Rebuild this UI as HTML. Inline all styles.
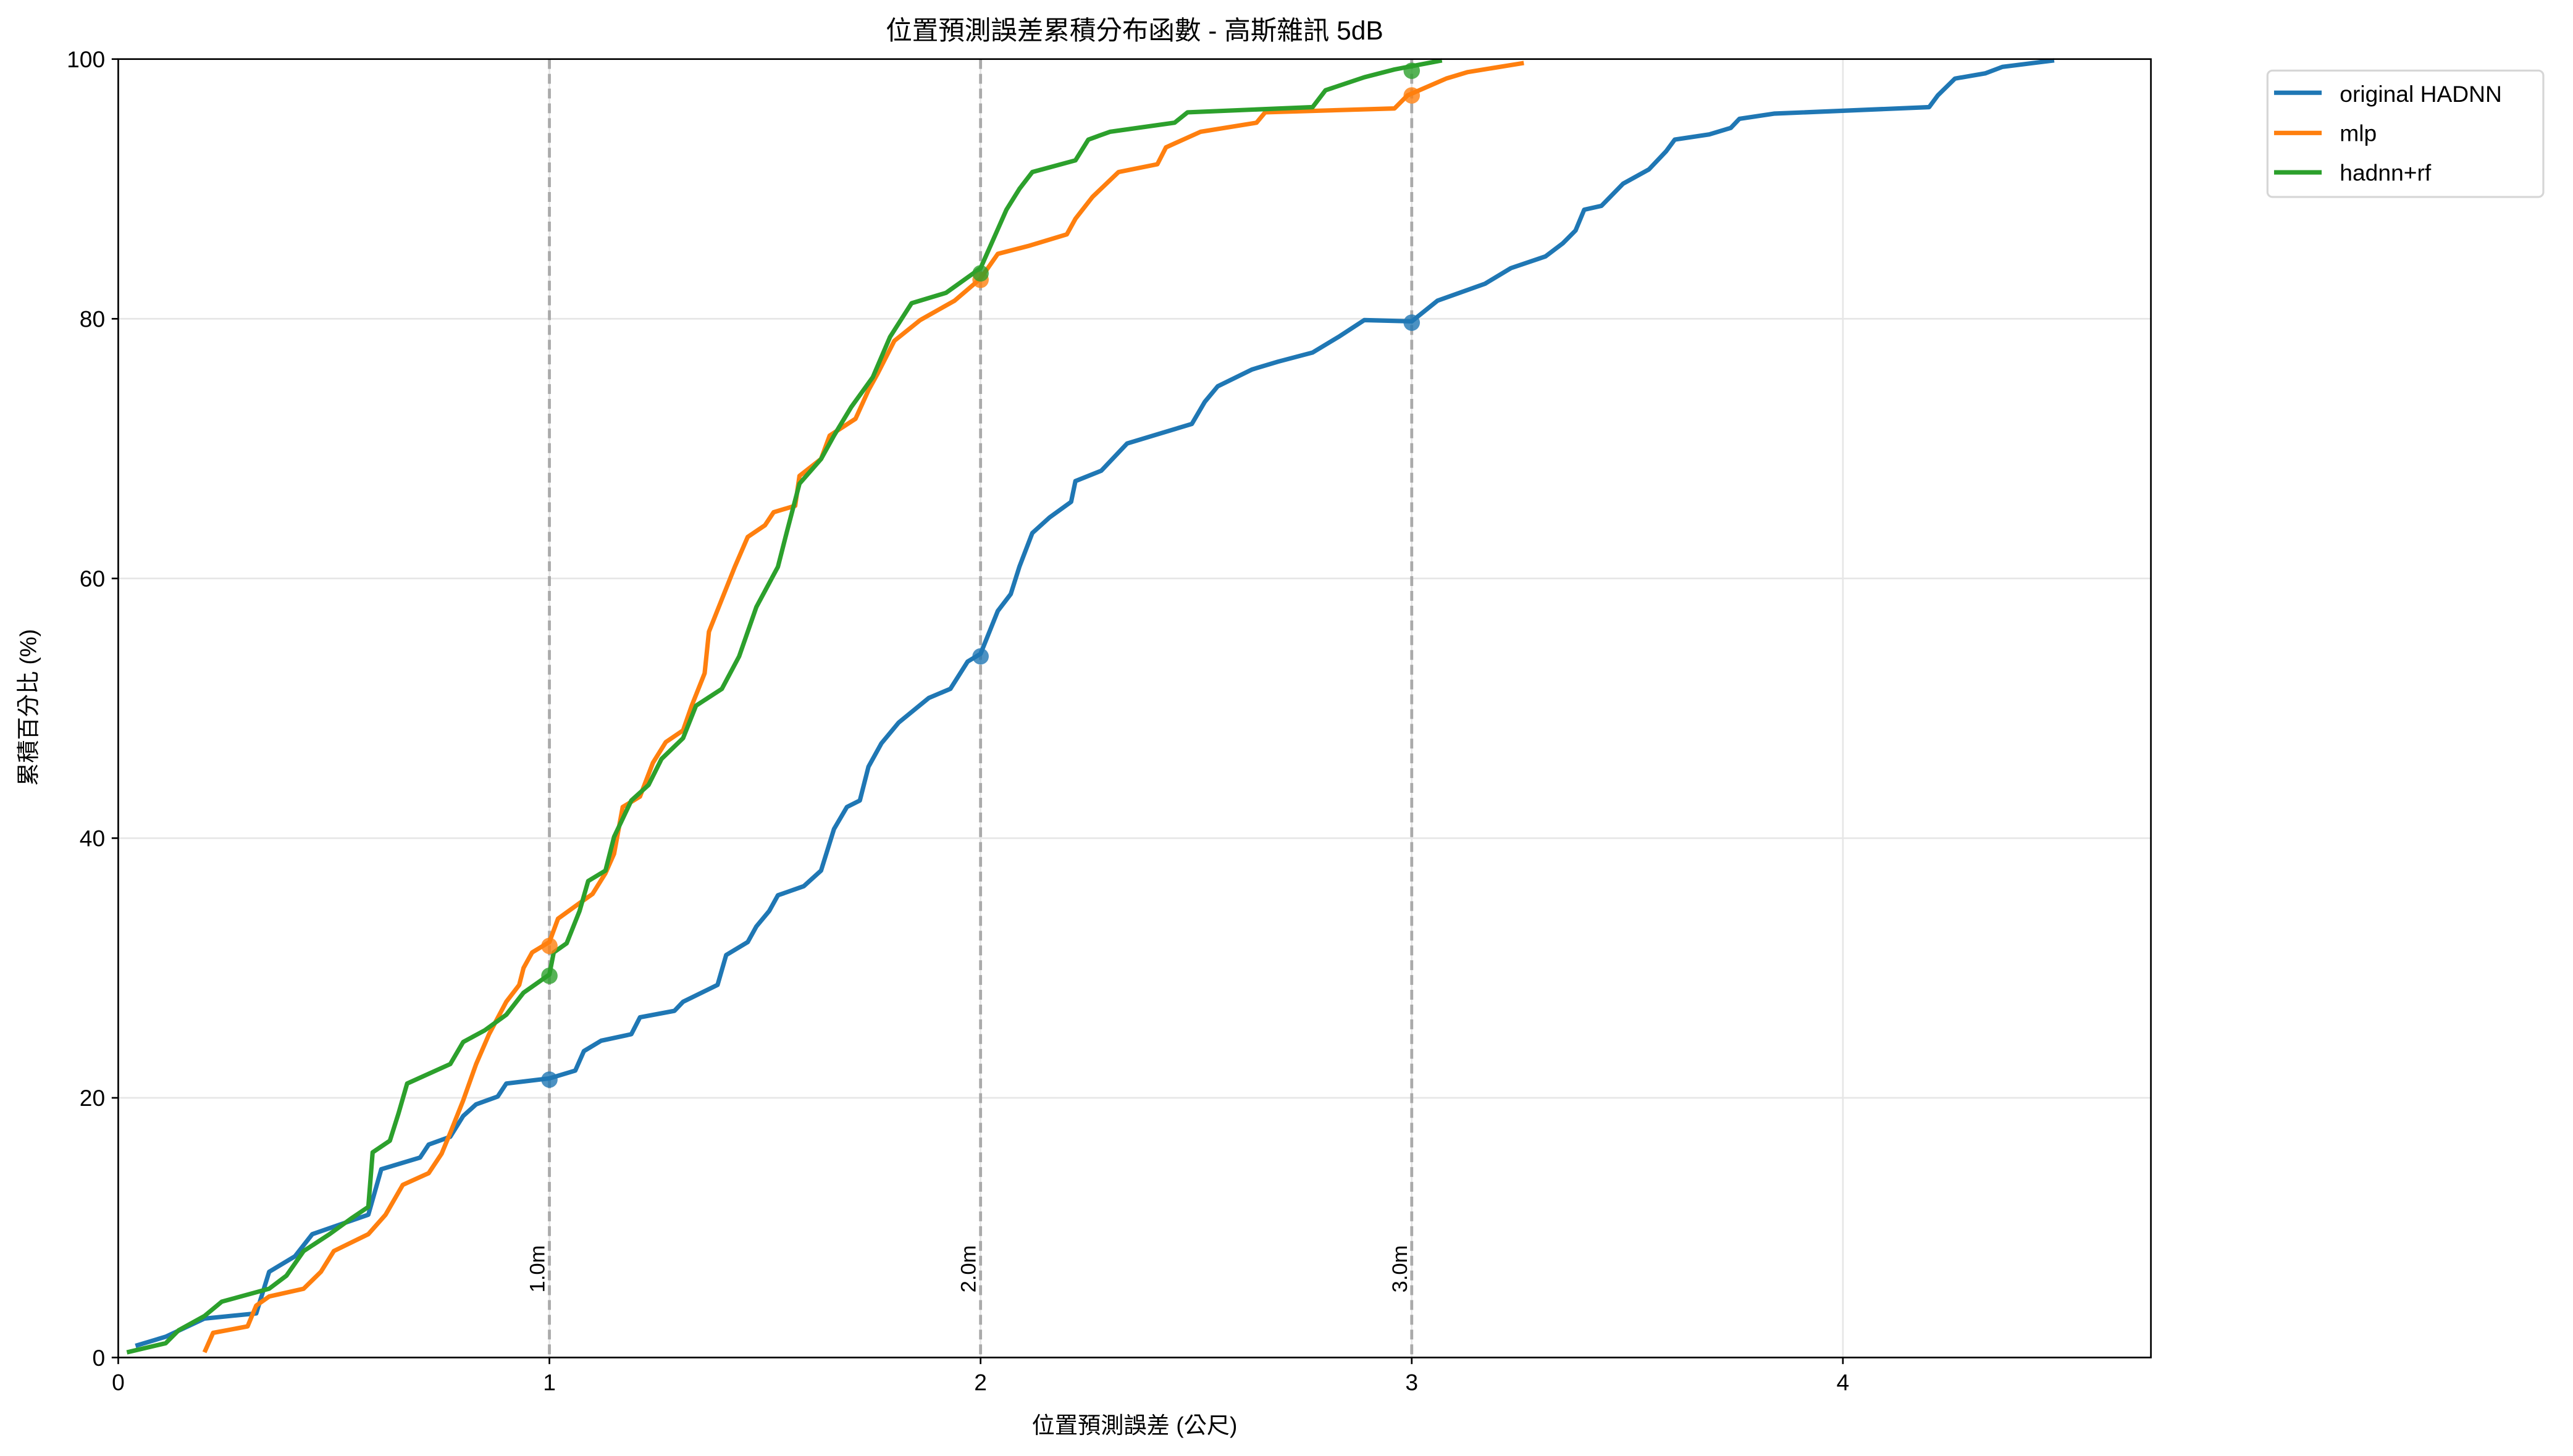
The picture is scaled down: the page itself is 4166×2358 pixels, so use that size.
<!DOCTYPE html>
<html><head><meta charset="utf-8"><style>
html,body{margin:0;padding:0;background:#fff;}
svg{display:block;font-family:"Liberation Sans","Noto Sans CJK TC",sans-serif;}
</style></head><body>
<svg id="chart" width="4166" height="2358" viewBox="0 0 1560 883" xmlns="http://www.w3.org/2000/svg">
<rect width="1560" height="883" fill="#fff"/>
<g transform="scale(0.9955)">
<g id="grid"></g>
<g id="vlines"></g>
<g id="series"></g>
<rect x="72" y="36" width="1238" height="791" fill="none" stroke="#000" stroke-width="1"/>
<g id="ticks" font-size="14" fill="#000"></g>
<text x="691" y="24" text-anchor="middle" font-size="16">位置預測誤差累積分布函數 - 高斯雜訊 5dB</text>
<text x="691" y="873" text-anchor="middle" font-size="14">位置預測誤差 (公尺)</text>
<text transform="translate(22,431) rotate(-90)" text-anchor="middle" font-size="14">累積百分比 (%)</text>
<g>
<rect x="1381" y="43" width="168" height="77" rx="3" fill="#fff" stroke="#d6d6d6" stroke-width="1.2"/>
<line x1="1385" y1="56.5" x2="1414" y2="56.5" stroke="#1f77b4" stroke-width="2.7"/>
<text x="1425" y="62" font-size="14">original HADNN</text>
<line x1="1385" y1="81" x2="1414" y2="81" stroke="#ff7f0e" stroke-width="2.7"/>
<text x="1425" y="86" font-size="14">mlp</text>
<line x1="1385" y1="105" x2="1414" y2="105" stroke="#2ca02c" stroke-width="2.7"/>
<text x="1425" y="110" font-size="14">hadnn+rf</text>
</g>
</g>
</svg>
<script>
const xTicks=[0,1,2,3,4];
const yTicks=[0,20,40,60,80,100];
const thresholds=[1,2,3];
const thresholdLabels=["1.0m","2.0m","3.0m"];
const seriesNames=["original HADNN","mlp","hadnn+rf"];
const hadnnX=[0.04,0.11,0.2,0.32,0.35,0.41,0.45,0.58,0.61,0.7,0.72,0.77,0.8,0.83,0.88,0.9,1.0,1.06,1.08,1.12,1.19,1.21,1.29,1.31,1.39,1.41,1.46,1.48,1.51,1.53,1.59,1.63,1.66,1.69,1.72,1.74,1.77,1.81,1.88,1.93,1.97,2.0,2.04,2.07,2.09,2.12,2.16,2.21,2.22,2.28,2.34,2.42,2.49,2.52,2.55,2.63,2.69,2.77,2.83,2.89,3.0,3.06,3.17,3.23,3.31,3.35,3.38,3.4,3.44,3.49,3.55,3.59,3.61,3.69,3.74,3.76,3.84,4.2,4.22,4.26,4.33,4.37,4.49];
const hadnnY=[0.9,1.6,3,3.4,6.6,7.8,9.5,11,14.5,15.4,16.4,17,18.6,19.5,20.1,21.1,21.5,22.1,23.6,24.4,24.9,26.2,26.7,27.4,28.7,31,32,33.2,34.4,35.6,36.3,37.5,40.7,42.4,42.9,45.5,47.3,48.9,50.8,51.5,53.6,54.2,57.5,58.8,60.9,63.5,64.7,65.9,67.5,68.3,70.4,71.2,71.9,73.6,74.8,76.1,76.7,77.4,78.6,79.9,79.8,81.4,82.7,83.9,84.8,85.8,86.8,88.4,88.7,90.4,91.5,92.9,93.8,94.2,94.7,95.4,95.8,96.3,97.2,98.5,98.9,99.4,99.9];
const mlpX=[0.2,0.22,0.3,0.32,0.35,0.43,0.47,0.5,0.58,0.62,0.66,0.72,0.75,0.77,0.8,0.83,0.86,0.9,0.93,0.94,0.96,1.0,1.02,1.07,1.1,1.13,1.15,1.17,1.21,1.24,1.27,1.31,1.33,1.36,1.37,1.4,1.43,1.46,1.5,1.52,1.57,1.58,1.63,1.65,1.71,1.74,1.76,1.8,1.86,1.94,2.0,2.04,2.11,2.2,2.22,2.26,2.32,2.41,2.43,2.51,2.64,2.66,2.96,2.99,3.08,3.13,3.26];
const mlpY=[0.4,1.9,2.4,4,4.7,5.3,6.6,8.2,9.5,11,13.3,14.2,15.7,17.3,19.8,22.6,24.9,27.4,28.7,30,31.2,32,33.8,35,35.7,37.3,38.8,42.4,43.2,45.8,47.4,48.3,50.2,52.7,55.9,58.4,60.9,63.2,64.1,65.1,65.6,67.9,69.2,71,72.3,74.5,75.7,78.3,79.9,81.4,83.1,85,85.6,86.5,87.7,89.4,91.3,91.9,93.2,94.4,95.1,95.9,96.2,97.2,98.5,99,99.7];
const rfX=[0.02,0.11,0.14,0.2,0.24,0.35,0.39,0.43,0.49,0.54,0.58,0.59,0.63,0.65,0.67,0.77,0.8,0.85,0.9,0.94,1.0,1.01,1.04,1.07,1.09,1.13,1.15,1.19,1.23,1.26,1.31,1.34,1.4,1.44,1.48,1.53,1.55,1.58,1.63,1.66,1.7,1.75,1.79,1.84,1.92,2.0,2.04,2.06,2.09,2.12,2.22,2.25,2.3,2.45,2.48,2.77,2.8,2.89,2.96,3.07];
const rfY=[0.4,1.1,2.1,3.2,4.3,5.3,6.3,8.2,9.5,10.7,11.6,15.8,16.7,18.8,21.1,22.6,24.3,25.2,26.4,28.1,29.5,31.2,31.9,34.4,36.7,37.5,40.1,42.9,44.1,46.1,47.7,50.2,51.5,54,57.8,60.9,63.5,67.3,69.2,71,73.2,75.5,78.6,81.2,82,83.9,86.9,88.4,90,91.3,92.2,93.8,94.4,95.1,95.9,96.3,97.6,98.6,99.2,99.9];
const markHadnn=[21.4,54,79.7];
const markMlp=[31.7,83,97.2];
const markRf=[29.4,83.5,99.1];

const NS="http://www.w3.org/2000/svg";
const X=v=>72+v*262.6;
const Y=v=>827-v*7.91;
function mk(tag,attrs,parent){const e=document.createElementNS(NS,tag);for(const k in attrs)e.setAttribute(k,attrs[k]);parent.appendChild(e);return e;}
const grid=document.getElementById('grid'),vl=document.getElementById('vlines'),sg=document.getElementById('series'),tk=document.getElementById('ticks');
xTicks.forEach(t=>{
 const g=mk('line',{x1:X(t),x2:X(t),y1:36,y2:827,stroke:'#e6e6e6','stroke-width':1},grid);
 
 
 const l=mk('line',{x1:X(t),x2:X(t),y1:827,y2:831,stroke:'#000'},tk);
 
 
 const tx=mk('text',{x:X(t),y:847,'text-anchor':'middle'},tk);tx.textContent=t;
 
 
});
yTicks.forEach(t=>{
 const g=mk('line',{x1:72,x2:1310,y1:Y(t),y2:Y(t),stroke:'#e6e6e6','stroke-width':1},grid);
 
 
 const l=mk('line',{x1:68,x2:72,y1:Y(t),y2:Y(t),stroke:'#000'},tk);
 
 
 const tx=mk('text',{x:64,y:Y(t)+5,'text-anchor':'end'},tk);tx.textContent=t;
 
 
});
thresholds.forEach((t,i)=>{
 const l=mk('line',{x1:X(t),x2:X(t),y1:36,y2:827,stroke:'#aaa','stroke-width':1.8,'stroke-dasharray':'6,3'},vl);
 
 
 const tx=mk('text',{transform:`translate(${X(t)-3},${Y(5)}) rotate(-90)`,'font-size':13},vl);tx.textContent=thresholdLabels[i];
 
 
});
const defs=[[hadnnX,hadnnY,'#1f77b4','original-hadnn',markHadnn],[mlpX,mlpY,'#ff7f0e','mlp',markMlp],[rfX,rfY,'#2ca02c','hadnn-rf',markRf]];
defs.forEach(([xs,ys,c,n])=>{
 const p=mk('polyline',{points:xs.map((x,i)=>X(x)+','+Y(ys[i])).join(' '),fill:'none',stroke:c,'stroke-width':2.7,'stroke-linejoin':'round'},sg);
 
 
});
defs.forEach(([xs,ys,c,n,m])=>{
 thresholds.forEach((t,i)=>{
  const d=mk('circle',{cx:X(t),cy:Y(m[i]),r:5,fill:c,'fill-opacity':0.8},sg);
  
  
 });
});
</script>
</body></html>
